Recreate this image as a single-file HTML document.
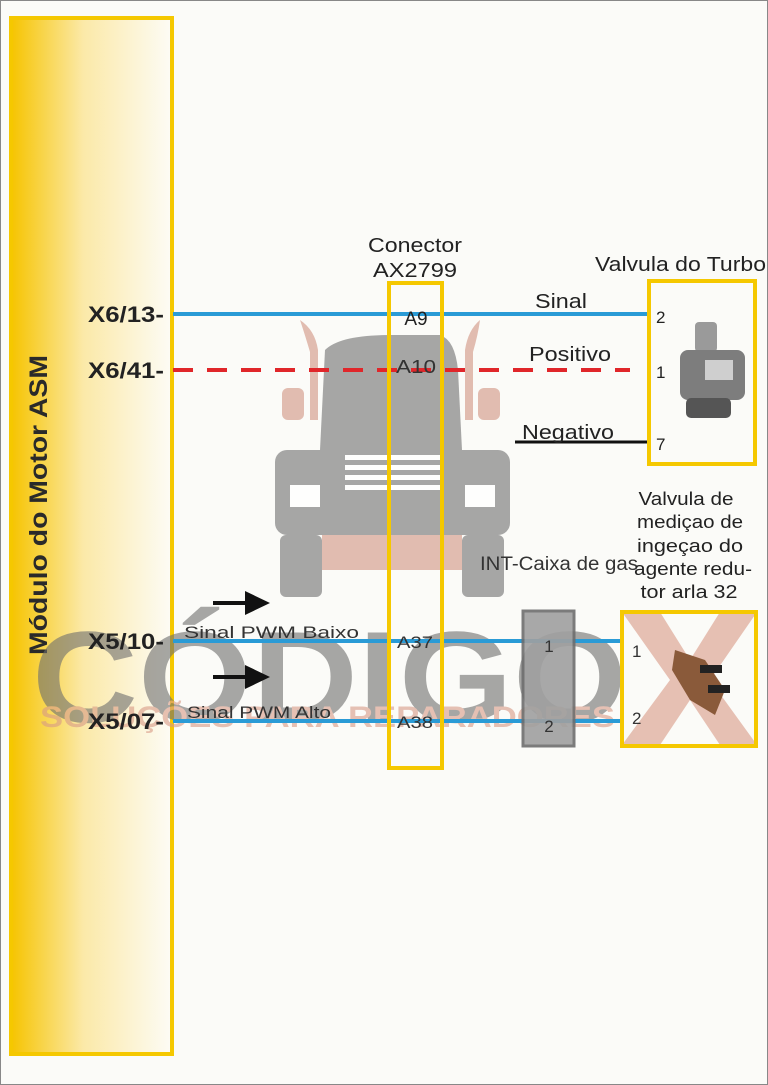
<!DOCTYPE html>
<html><head><style>
html,body{margin:0;padding:0;background:#fbfbf8;}
svg{display:block;}
text{font-family:"Liberation Sans",sans-serif;}
</style></head><body>
<svg width="768" height="1085" viewBox="0 0 768 1085" xmlns="http://www.w3.org/2000/svg">
<defs>
<linearGradient id="g" x1="0" x2="1" y1="0" y2="0">
<stop offset="0" stop-color="#f6c400"/><stop offset="0.45" stop-color="#fbe9a8"/><stop offset="1" stop-color="#fdfcf6"/>
</linearGradient>
</defs>
<rect x="0.5" y="0.5" width="767" height="1084" fill="#fbfbf8" stroke="#888" stroke-width="1"/>

<!-- truck watermark -->
<g opacity="0.75">
<path d="M300 320 Q315 330 318 350 L318 420 L310 420 L310 352 Q305 335 300 320Z" fill="#d9a898"/>
<path d="M480 320 Q468 330 465 350 L465 420 L473 420 L473 352 Q478 335 480 320Z" fill="#d9a898"/>
<rect x="282" y="388" width="22" height="32" rx="6" fill="#d9a898"/>
<rect x="478" y="388" width="22" height="32" rx="6" fill="#d9a898"/>
<path d="M325 350 Q340 335 390 335 L440 335 Q455 340 458 370 L462 450 L320 450Z" fill="#8a8a8a"/>
<rect x="275" y="450" width="235" height="85" rx="12" fill="#8a8a8a"/>
<rect x="290" y="485" width="30" height="22" fill="#fff"/>
<rect x="465" y="485" width="30" height="22" fill="#fff"/>
<rect x="345" y="455" width="95" height="5" fill="#fff"/>
<rect x="345" y="465" width="95" height="5" fill="#fff"/>
<rect x="345" y="475" width="95" height="5" fill="#fff"/>
<rect x="345" y="485" width="95" height="5" fill="#fff"/>
<rect x="322" y="535" width="140" height="35" fill="#d9a898"/>
<rect x="280" y="535" width="42" height="62" rx="6" fill="#8a8a8a"/>
<rect x="462" y="535" width="42" height="62" rx="6" fill="#8a8a8a"/>
</g>

<!-- module -->
<rect x="11" y="18" width="161" height="1036" fill="url(#g)" stroke="#f5c800" stroke-width="4"/>
<text transform="translate(47,505) rotate(-90)" text-anchor="middle" font-size="25" font-weight="bold" fill="#2a2a2a" textLength="300" lengthAdjust="spacingAndGlyphs">Módulo do Motor  ASM</text>

<!-- watermark text -->
<g opacity="0.6">
<text x="32" y="722" font-size="130" font-weight="bold" fill="#6e6e6e" textLength="595" lengthAdjust="spacingAndGlyphs">CÓDIGO</text>
<text x="40" y="727" font-size="30" font-weight="bold" fill="#d89a86" textLength="575" lengthAdjust="spacingAndGlyphs">SOLUÇÕES PARA REPARADORES</text>
<path d="M622 612 L660 612 L690 660 L720 612 L757 612 L710 680 L757 745 L720 745 L690 700 L660 745 L622 745 L670 680Z" fill="#d89a86"/>
</g>

<!-- labels left -->
<text x="88" y="322" font-size="22" font-weight="bold" fill="#222" textLength="76" lengthAdjust="spacingAndGlyphs">X6/13-</text>
<text x="88" y="378" font-size="22" font-weight="bold" fill="#222" textLength="76" lengthAdjust="spacingAndGlyphs">X6/41-</text>
<text x="88" y="649" font-size="22" font-weight="bold" fill="#222" textLength="76" lengthAdjust="spacingAndGlyphs">X5/10-</text>
<text x="88" y="729" font-size="22" font-weight="bold" fill="#222" textLength="76" lengthAdjust="spacingAndGlyphs">X5/07-</text>

<!-- wires -->
<line x1="173" y1="314" x2="648" y2="314" stroke="#2a9bd6" stroke-width="4"/>
<line x1="173" y1="370" x2="630" y2="370" stroke="#e0262a" stroke-width="4" stroke-dasharray="20,14"/>
<line x1="515" y1="442" x2="648" y2="442" stroke="#111" stroke-width="3"/>
<line x1="173" y1="641" x2="622" y2="641" stroke="#2a9bd6" stroke-width="4"/>
<line x1="173" y1="721" x2="622" y2="721" stroke="#2a9bd6" stroke-width="4"/>

<!-- arrows -->
<line x1="213" y1="603" x2="250" y2="603" stroke="#111" stroke-width="4"/>
<path d="M245 591 L270 603 L245 615Z" fill="#111"/>
<line x1="213" y1="677" x2="250" y2="677" stroke="#111" stroke-width="4"/>
<path d="M245 665 L270 677 L245 689Z" fill="#111"/>
<text x="184" y="638" font-size="17" fill="#333" textLength="175" lengthAdjust="spacingAndGlyphs">Sinal PWM Baixo</text>
<text x="187" y="718" font-size="17" fill="#333" textLength="144" lengthAdjust="spacingAndGlyphs">Sinal PWM Alto</text>

<!-- connector -->
<text x="415" y="252" font-size="20" fill="#222" text-anchor="middle" textLength="94" lengthAdjust="spacingAndGlyphs">Conector</text>
<text x="415" y="277" font-size="20" fill="#222" text-anchor="middle" textLength="84" lengthAdjust="spacingAndGlyphs">AX2799</text>
<rect x="389" y="283" width="53" height="485" fill="none" stroke="#f5c800" stroke-width="4"/>
<text x="416" y="325" font-size="19" fill="#222" text-anchor="middle">A9</text>
<text x="416" y="373" font-size="18" fill="#333" text-anchor="middle" textLength="40" lengthAdjust="spacingAndGlyphs">A10</text>
<text x="415" y="648" font-size="17" fill="#333" text-anchor="middle" textLength="36" lengthAdjust="spacingAndGlyphs">A37</text>
<text x="415" y="728" font-size="17" fill="#333" text-anchor="middle" textLength="36" lengthAdjust="spacingAndGlyphs">A38</text>

<text x="561" y="308" font-size="20" fill="#222" text-anchor="middle" textLength="52" lengthAdjust="spacingAndGlyphs">Sinal</text>
<text x="570" y="361" font-size="20" fill="#222" text-anchor="middle" textLength="82" lengthAdjust="spacingAndGlyphs">Positivo</text>
<text x="568" y="439" font-size="20" fill="#222" text-anchor="middle" textLength="92" lengthAdjust="spacingAndGlyphs">Negativo</text>

<!-- turbo valve -->
<text x="595" y="271" font-size="20" fill="#222" textLength="171" lengthAdjust="spacingAndGlyphs">Valvula do Turbo</text>
<rect x="649" y="281" width="106" height="183" fill="none" stroke="#f5c800" stroke-width="4"/>
<text x="656" y="323" font-size="17" fill="#222">2</text>
<text x="656" y="378" font-size="17" fill="#222">1</text>
<text x="656" y="450" font-size="17" fill="#222">7</text>
<g>
<rect x="695" y="322" width="22" height="30" rx="4" fill="#9a9a9a"/>
<rect x="680" y="350" width="65" height="50" rx="8" fill="#7d7d7d"/>
<rect x="705" y="360" width="28" height="20" fill="#cfcfcf"/>
<rect x="686" y="398" width="45" height="20" rx="5" fill="#555"/>
</g>

<!-- INT -->
<text x="480" y="570" font-size="19" fill="#333" textLength="158" lengthAdjust="spacingAndGlyphs">INT-Caixa de gas</text>
<rect x="523" y="611" width="51" height="135" fill="#a0a0a0" stroke="#6e6e6e" stroke-width="3" opacity="0.9"/>
<text x="549" y="652" font-size="17" fill="#333" text-anchor="middle">1</text>
<text x="549" y="732" font-size="17" fill="#333" text-anchor="middle">2</text>

<!-- arla -->
<text x="686" y="505" font-size="18" fill="#222" text-anchor="middle" textLength="95" lengthAdjust="spacingAndGlyphs">Valvula de</text>
<text x="690" y="528" font-size="18" fill="#222" text-anchor="middle" textLength="106" lengthAdjust="spacingAndGlyphs">mediçao de</text>
<text x="690" y="552" font-size="18" fill="#222" text-anchor="middle" textLength="106" lengthAdjust="spacingAndGlyphs">ingeçao do</text>
<text x="693" y="575" font-size="18" fill="#222" text-anchor="middle" textLength="118" lengthAdjust="spacingAndGlyphs">agente redu-</text>
<text x="689" y="598" font-size="18" fill="#222" text-anchor="middle" textLength="97" lengthAdjust="spacingAndGlyphs">tor arla 32</text>
<rect x="622" y="612" width="134" height="134" fill="none" stroke="#f5c800" stroke-width="4"/>
<text x="632" y="657" font-size="17" fill="#333">1</text>
<text x="632" y="724" font-size="17" fill="#333">2</text>
<path d="M675 650 L705 660 L725 690 L715 715 L690 700 L672 670Z" fill="#8a5a3a"/>
<rect x="700" y="665" width="22" height="8" fill="#222"/>
<rect x="708" y="685" width="22" height="8" fill="#222"/>
</svg>
</body></html>
